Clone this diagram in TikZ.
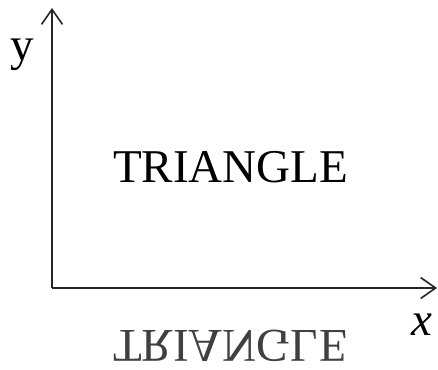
\documentclass[tikz,border=0pt]{standalone}
\usepackage{fontspec}
\setmainfont{Liberation Serif}
\usetikzlibrary{arrows.meta}
\begin{document}
\begin{tikzpicture}[x=1pt,y=-1pt,
  axis/.style={line width=1.6pt,draw=black!85,-{Straight Barb[length=15pt,width=21pt,line width=1.6pt]}},
  big/.style={font=\fontsize{47}{50}\selectfont,inner sep=0pt}]
\useasboundingbox (0,0) rectangle (438,369);
\coordinate (o) at (52,288);
\coordinate (ytip) at (52,8);
\coordinate (xtip) at (437,288);
\draw[axis] (o) -- (ytip);
\draw[axis] (o) -- (xtip);
\node[big,anchor=base] (ylab) at (22,60) {y};
\node[big,anchor=base] (xlab) at (422,335) {\itshape x};
\node[big,anchor=base] (tri) at (230.5,182) {TRIANGLE};
\node[big,anchor=base,yscale=-1,text=black!75] (mirror) at (230.5,330) {TRIANGLE};
\end{tikzpicture}
\end{document}
